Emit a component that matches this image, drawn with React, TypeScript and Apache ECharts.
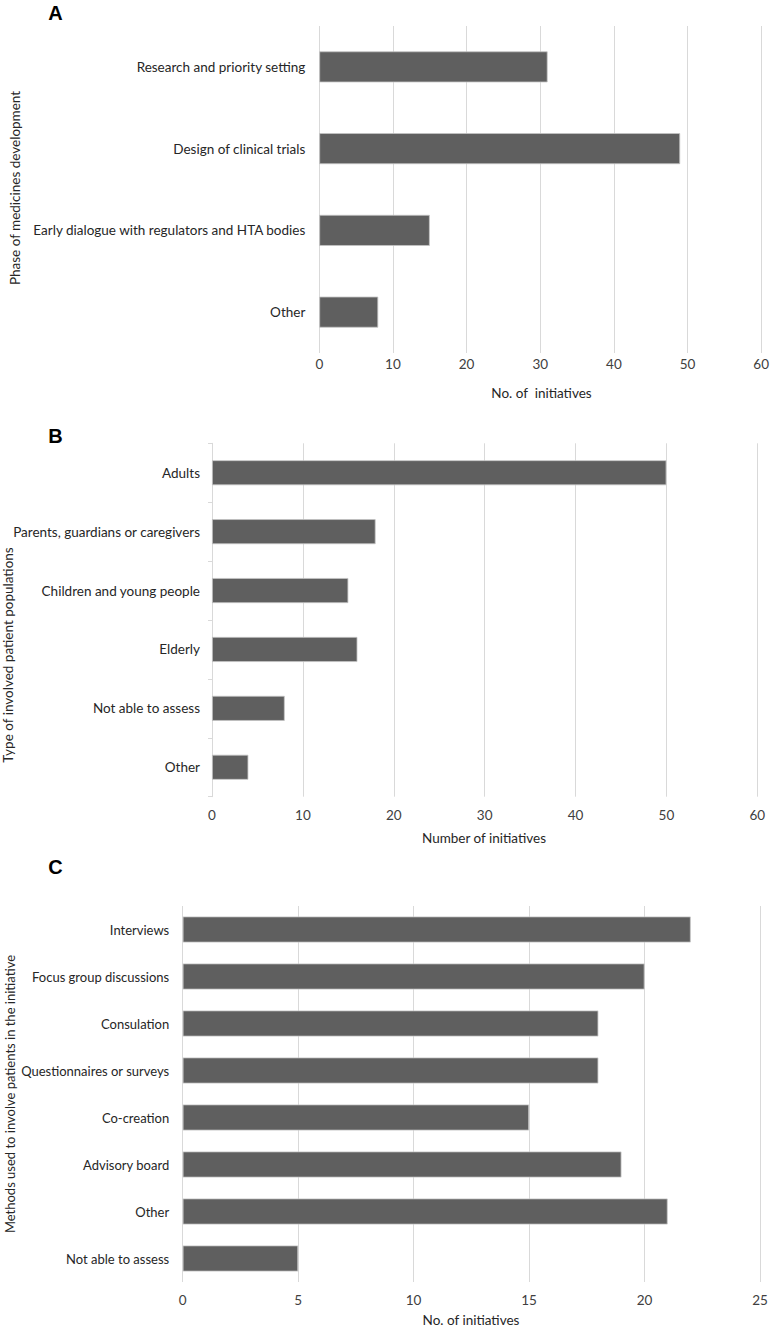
import React, { useEffect, useRef } from "react";
import * as echarts from "echarts";

const catA = [
  "Research and priority setting",
  "Design of clinical trials",
  "Early dialogue with regulators and HTA bodies",
  "Other",
];
const valA = [31, 49, 15, 8];
const ticksA = { min: 0, max: 60, interval: 10 };

const catB = [
  "Adults",
  "Parents, guardians or caregivers",
  "Children and young people",
  "Elderly",
  "Not able to assess",
  "Other",
];
const valB = [50, 18, 15, 16, 8, 4];
const ticksB = { min: 0, max: 60, interval: 10 };

const catC = [
  "Interviews",
  "Focus group discussions",
  "Consulation",
  "Questionnaires or surveys",
  "Co-creation",
  "Advisory board",
  "Other",
  "Not able to assess",
];
const valC = [22, 20, 18, 18, 15, 19, 21, 5];
const ticksC = { min: 0, max: 25, interval: 5 };

const titles = {
  a: { y: "Phase of medicines development", x: "No. of  initiatives" },
  b: { y: "Type of involved patient populations", x: "Number of initiatives" },
  c: { y: "Methods used to involve patients in the initiative", x: "No. of initiatives" },
};

const FONT = "Lato";
const BAR = "#5f5f5f";
const GRID = "#d9d9d9";
const TXT = "#262626";
const TICK = "#404040";

export default function App() {
  const ref = useRef<HTMLDivElement>(null);
  useEffect(() => {
    document.body.style.margin = "0";
    const chart = echarts.init(ref.current!, null, { renderer: "svg" });
    const grids = [
      { left: 319.3, right: 8.7, top: 26, height: 327 },
      { left: 212, right: 14.7, top: 443.3, height: 353.4 },
      { left: 182.7, right: 12, top: 906, height: 376 },
    ];
    const ticks = [ticksA, ticksB, ticksC];
    const cats = [catA, catB, catC];
    const vals = [valA, valB, valC];
    const barW = [31, 25, 26];
    const tickMargin = [4, 11, 11];
    const catMargin = [14, 12, 13.5];
    const catFont = [13.5, 13.5, 13];

    const xAxis = ticks.map((t, i) => ({
      type: "value",
      gridIndex: i,
      min: t.min,
      max: t.max,
      interval: t.interval,
      axisLine: { show: false },
      axisTick: { show: false },
      splitLine: { show: true, lineStyle: { color: GRID, width: 1 } },
      axisLabel: { color: TICK, fontFamily: FONT, fontSize: 13.5, margin: tickMargin[i] },
    }));
    const yAxis = cats.map((c, i) => ({
      type: "category",
      gridIndex: i,
      data: c,
      inverse: true,
      axisLine: { show: i === 1, lineStyle: { color: GRID } },
      axisTick: { show: i === 1, length: 4, lineStyle: { color: GRID } },
      axisLabel: { color: TXT, fontFamily: FONT, fontSize: catFont[i], margin: catMargin[i] },
    }));
    const series = vals.map((v, i) => ({
      type: "bar",
      xAxisIndex: i,
      yAxisIndex: i,
      data: v,
      barWidth: barW[i],
      itemStyle: { color: BAR, borderColor: "#c4c4c4", borderWidth: 0.8 },
    }));

    const txt = (text: string, x: number, y: number, extra: any = {}) => ({
      type: "text",
      x,
      y,
      rotation: extra.rotation || 0,
      style: {
        text,
        fill: extra.fill || TXT,
        font: extra.font || `13.5px ${FONT}`,
        textAlign: "center",
        textVerticalAlign: "middle",
      },
    });

    chart.setOption({
      animation: false,
      backgroundColor: "#ffffff",
      grid: grids,
      xAxis,
      yAxis,
      series,
      graphic: [
        txt("A", 55.5, 13, { font: "bold 20px 'Liberation Sans'", fill: "#000" }),
        txt("B", 55.5, 436, { font: "bold 20px 'Liberation Sans'", fill: "#000" }),
        txt("C", 55.5, 867, { font: "bold 20px 'Liberation Sans'", fill: "#000" }),
        txt(titles.a.y, 15, 188, { rotation: Math.PI / 2 }),
        txt(titles.b.y, 8, 655, { rotation: Math.PI / 2 }),
        txt(titles.c.y, 9.5, 1094, { rotation: Math.PI / 2, font: `13px ${FONT}` }),
        txt(titles.a.x, 541.5, 393),
        txt(titles.b.x, 484, 838),
        txt(titles.c.x, 471, 1320),
      ],
    });
    return () => chart.dispose();
  }, []);
  return <div ref={ref} style={{ width: 772, height: 1329 }} />;
}
